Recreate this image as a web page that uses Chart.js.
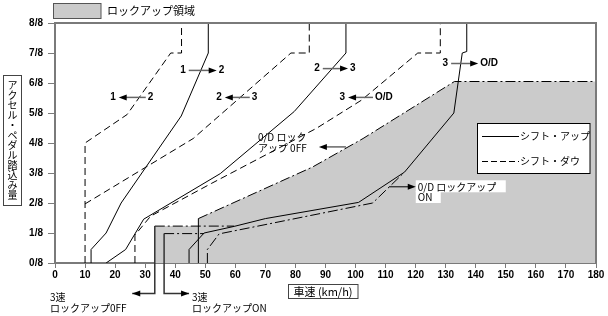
<!DOCTYPE html>
<html><head><meta charset="utf-8">
<style>html,body{margin:0;padding:0;background:#fff}#wrap{width:608px;height:316px}canvas{display:block}</style>
<script src="https://cdn.jsdelivr.net/npm/chart.js@4/dist/chart.umd.min.js"></script>
</head><body>
<div id="wrap"><canvas id="c" width="608" height="316"></canvas></div>
<script>
// ---- data (x: km/h, y: eighths of pedal travel) ----
const yTickLabels = ["0/8","1/8","2/8","3/8","4/8","5/8","6/8","7/8","8/8"];
const shiftUp12   = [[12,0],[12,0.45],[17,1],[22,2],[42,4.9],[51,7],[51,8]];
const shiftDown12 = [[10,0],[10,4],[24,4.95],[38.5,7],[42.1,7],[42.1,8]];
const shiftUp23   = [[17,0],[23.5,0.45],[29.5,1.46],[55,2.98],[79.6,5.05],[96.8,7],[96.8,8]];
const shiftDown23 = [[10,1.97],[46,4.15],[78.5,7],[84.6,7],[84.6,8]];
const shiftUp3OD  = [[44.6,0],[44.6,0.45],[49.6,1],[59.6,1.22],[70,1.48],[101,2.02],[116.3,3.03],[132.7,5],[135.5,7],[137,7.05],[137,8]];
const shiftDown3OD= [[26.6,0],[26.6,0.93],[31.8,1.56],[52,2.65],[87,4.49],[102,5.43],[120.7,7],[128.2,7],[128.2,8]];
const lockupOffOD = [[47.7,1.48],[85.7,3.2],[102.5,4.15],[132.9,6.05],[180,6.05]];
const lockupOffEdge = [[47.7,0],[47.7,1.48]];
const lockupOnOD  = [[50.7,0],[50.7,0.45],[54.6,0.97],[105.7,2.0],[116.3,3.03]];
const lockupOff3rd= [[33.2,1.23],[59.6,1.23]];
const lockupOn3rd = [[36.3,0.98],[49.6,0.98]];
const lockupRegion= [[33.2,0],[33.2,1.23],[47.7,1.23],[47.7,1.48],[85.7,3.2],[102.5,4.15],[132.9,6.05],[180,6.05]];

// ---- annotation config ----
const arrowNotes = [
  {left:"1", right:"2",   y:6.42, tail:44.5,  head:53.8},
  {left:"1", right:"2",   y:5.52, tail:30.2,  head:21.2},
  {left:"2", right:"3",   y:5.52, tail:64.8,  head:56.5},
  {left:"2", right:"3",   y:6.48, tail:89.1,  head:97.5},
  {left:"3", right:"O/D", y:6.65, tail:131.8, head:140.8},
  {left:"3", right:"O/D", y:5.52, tail:105.8, head:97.5}
];
const leaders = [
  {x:33.2, yTop:1.23, yBot:-1.02, toX:25.7},
  {x:36.3, yTop:0.98, yBot:-1.02, toX:44.6}
];

const P = a => a.map(([x,y]) => ({x,y}));
const DASH = [7,4];
const DASHDOT = [10,3,2,3];
function line(label, data, dash, extra){
  return Object.assign({label, data:P(data), borderColor:'#000', borderWidth:1, borderDash:dash||[],
    pointRadius:0, pointHoverRadius:0, fill:false, tension:0, order:1}, extra||{});
}
const JP = '"Noto Sans CJK JP", sans-serif';
const LAT = '"Liberation Sans", Arial, sans-serif';

function head(ctx, x, y, dir){
  ctx.beginPath();
  ctx.moveTo(x, y);
  ctx.lineTo(x - dir*8, y - 3);
  ctx.lineTo(x - dir*8, y + 3);
  ctx.closePath();
  ctx.fillStyle = '#000';
  ctx.fill();
}
function txt(ctx, s, x, y, font, align){
  ctx.font = font; ctx.fillStyle = '#000';
  ctx.textAlign = align || 'left'; ctx.textBaseline = 'middle';
  ctx.fillText(s, x, y);
}

const decor = {
  id:'decor',
  afterDraw(chart){
    const ctx = chart.ctx, a = chart.chartArea;
    const sx = v => chart.scales.x.getPixelForValue(v);
    const sy = v => chart.scales.y.getPixelForValue(v);
    ctx.save();
    // frame top/right
    ctx.strokeStyle = '#7a7a7a'; ctx.lineWidth = 2; ctx.setLineDash([]);
    ctx.beginPath(); ctx.moveTo(a.left, a.top); ctx.lineTo(a.right, a.top); ctx.lineTo(a.right, a.bottom); ctx.stroke();

    // leaders for 3rd gear lockup
    leaders.forEach(l => {
      const x = sx(l.x), yb = sy(l.yBot);
      ctx.strokeStyle = '#333'; ctx.lineWidth = 1.5;
      ctx.beginPath(); ctx.moveTo(x, sy(l.yTop)); ctx.lineTo(x, yb); ctx.lineTo(sx(l.toX), yb); ctx.stroke();
      head(ctx, sx(l.toX), yb, l.toX < l.x ? -1 : 1);
    });

    // shift arrows
    arrowNotes.forEach(n => {
      const y = sy(n.y), xt = sx(n.tail), xh = sx(n.head);
      const dir = xh > xt ? 1 : -1;
      ctx.strokeStyle = '#666'; ctx.lineWidth = 1.5;
      ctx.beginPath(); ctx.moveTo(xt, y); ctx.lineTo(xh - dir*6, y); ctx.stroke();
      head(ctx, xh, y, dir);
      const lo = Math.min(xt, xh), hi = Math.max(xt, xh);
      txt(ctx, n.left, lo - 3, y, 'bold 10px ' + LAT, 'right');
      txt(ctx, n.right, hi + 2, y, 'bold 10px ' + LAT, 'left');
    });

    // O/D lockup OFF label
    const offX = sx(67.5);
    txt(ctx, '0/D ロック', offX, sy(4.19), '10px ' + JP);
    txt(ctx, 'アップ 0FF', offX, sy(3.82), '10px ' + JP);
    ctx.strokeStyle = '#666'; ctx.lineWidth = 1.5;
    ctx.beginPath(); ctx.moveTo(sx(96.8), sy(3.87)); ctx.lineTo(sx(87.8) + 6, sy(3.87)); ctx.stroke();
    head(ctx, sx(87.8), sy(3.87), -1);

    // O/D lockup ON label (white background)
    const onX = sx(120.7), onY1 = sy(2.54), onY2 = sy(2.2);
    ctx.fillStyle = '#fff';
    ctx.fillRect(onX - 2, onY1 - 6.5, 90, 12);
    ctx.fillRect(onX - 2, onY2 - 6, 25, 12);
    txt(ctx, '0/D ロックアップ', onX, onY1, '10px ' + JP);
    txt(ctx, 'ON', onX, onY2, '10px ' + JP);
    ctx.strokeStyle = '#000'; ctx.lineWidth = 1;
    ctx.beginPath(); ctx.moveTo(sx(111.2), onY1); ctx.lineTo(onX - 8, onY1); ctx.stroke();
    head(ctx, onX - 2, onY1, 1);

    // bottom 3rd gear notes
    txt(ctx, '3速', 50, 297, '10px ' + JP);
    txt(ctx, 'ロックアップ0FF', 50, 308.5, '10px ' + JP);
    txt(ctx, '3速', 192, 297, '10px ' + JP);
    txt(ctx, 'ロックアップON', 192, 308.5, '10px ' + JP);

    // top legend
    ctx.fillStyle = '#cbcbcb'; ctx.fillRect(53.5, 3.5, 47.5, 15);
    ctx.strokeStyle = '#555'; ctx.lineWidth = 1; ctx.strokeRect(53.5, 3.5, 47.5, 15);
    txt(ctx, 'ロックアップ領域', 107, 11, '11px ' + JP);

    // right legend
    ctx.fillStyle = '#fff'; ctx.fillRect(477, 123.5, 113, 50);
    ctx.strokeStyle = '#000'; ctx.lineWidth = 1; ctx.strokeRect(477.5, 123.5, 112.5, 50);
    ctx.beginPath(); ctx.moveTo(482, 136.5); ctx.lineTo(519, 136.5); ctx.stroke();
    ctx.setLineDash([6,3]); ctx.beginPath(); ctx.moveTo(482, 161.5); ctx.lineTo(519, 161.5); ctx.stroke(); ctx.setLineDash([]);
    txt(ctx, 'シフト・アップ', 520, 136.5, '10px ' + JP);
    txt(ctx, 'シフト・ダウ', 520, 161.5, '10px ' + JP);

    // y title (vertical box)
    ctx.fillStyle = '#fff'; ctx.fillRect(3.5, 75.5, 18, 130);
    ctx.strokeStyle = '#444'; ctx.strokeRect(3.5, 75.5, 18, 130);
    'アクセル・ペダル踏込み量'.split('').forEach((ch, i) => txt(ctx, ch, 12.5, 85 + i*10, '10px ' + JP, 'center'));

    // x title
    ctx.strokeStyle = '#444'; ctx.strokeRect(288.5, 284.5, 69.5, 14);
    txt(ctx, '車速 (km/h)', 323, 291.5, '11px ' + JP, 'center');
    ctx.restore();
  }
};

new Chart(document.getElementById('c'), {
  type:'line',
  data:{ datasets:[
    line('shiftUp12', shiftUp12),
    line('shiftDown12', shiftDown12, DASH),
    line('shiftUp23', shiftUp23),
    line('shiftDown23', shiftDown23, DASH),
    line('shiftUp3OD', shiftUp3OD),
    line('shiftDown3OD', shiftDown3OD, DASH),
    line('lockupOffOD', lockupOffOD, DASHDOT),
    line('lockupOffEdge', lockupOffEdge),
    line('lockupOnOD', lockupOnOD, DASHDOT),
    line('lockupOff3rd', lockupOff3rd, DASHDOT),
    line('lockupOn3rd', lockupOn3rd, DASHDOT),
    line('lockupRegion', lockupRegion, [], {borderWidth:0, borderColor:'rgba(0,0,0,0)', fill:'origin', backgroundColor:'#cbcbcb', order:10})
  ]},
  options:{
    responsive:false, animation:false, devicePixelRatio:1,
    layout:{padding:{top:23, right:12, left:0, bottom:0}},
    plugins:{legend:{display:false}, tooltip:{enabled:false}},
    events:[],
    scales:{
      x:{type:'linear', min:0, max:180, z:1,
        afterFit(s){ s.height = 53; },
        ticks:{stepSize:10, color:'#000', font:{family:'"Liberation Sans", Arial, sans-serif', size:10, weight:'bold'}, padding:1, maxRotation:0},
        grid:{drawOnChartArea:false, drawTicks:true, tickLength:5, color:'#7a7a7a', lineWidth:1},
        border:{color:'#7a7a7a', width:2}},
      y:{type:'linear', min:0, max:8, z:1,
        afterFit(s){ s.width = 55; },
        ticks:{stepSize:1, color:'#000', font:{family:'"Liberation Sans", Arial, sans-serif', size:10, weight:'bold'}, padding:5,
          callback:v => yTickLabels[v]},
        grid:{drawOnChartArea:false, drawTicks:true, tickLength:7, color:'#7a7a7a', lineWidth:1},
        border:{color:'#7a7a7a', width:2}}
    }
  },
  plugins:[decor]
});
</script>
</body></html>
